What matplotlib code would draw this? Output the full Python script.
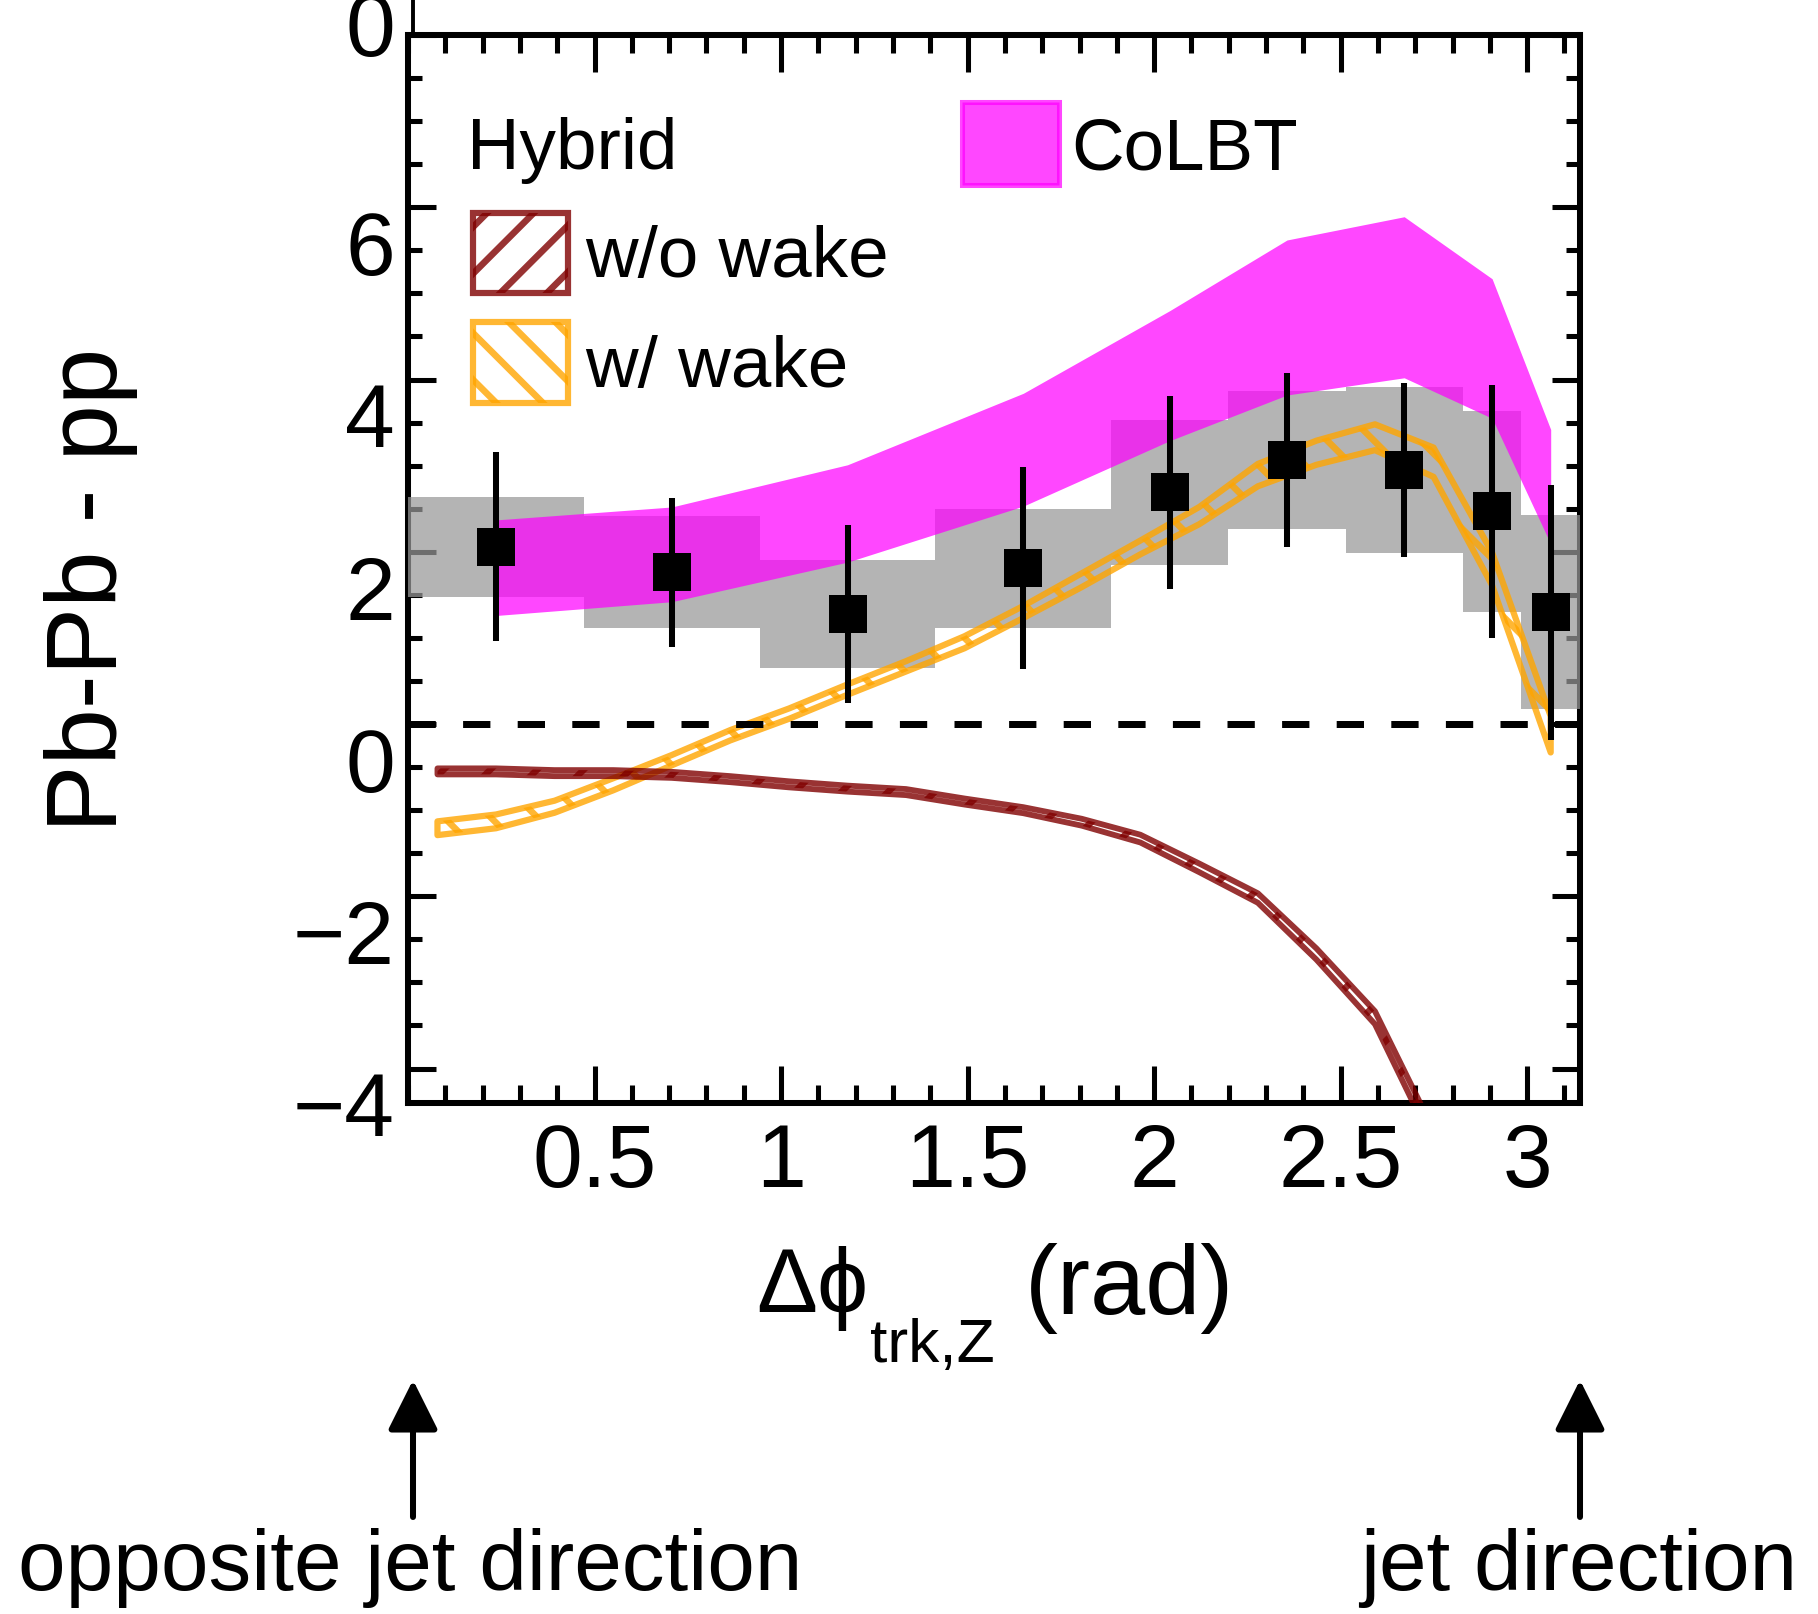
import numpy as np
import matplotlib.pyplot as plt
from matplotlib import transforms
from matplotlib.lines import Line2D
from matplotlib.patches import Rectangle
from matplotlib.ticker import MultipleLocator

plt.rcParams['font.family'] = ['Liberation Sans', 'DejaVu Sans']
plt.rcParams['hatch.linewidth'] = 3.4

# ---- measured data: Pb-Pb minus pp, binned in dphi (bin edges in units of pi/20)
bin_edges_pi20 = [0, 3, 6, 9, 12, 14, 16, 18, 19, 20]
data_y = [2.06, 1.76, 1.28, 1.81, 2.69, 3.07, 2.95, 2.47, 1.30]
stat_err = [1.10, 0.87, 1.03, 1.17, 1.12, 1.01, 1.01, 1.47, 1.48]
sys_err = [0.58, 0.65, 0.63, 0.69, 0.84, 0.80, 0.96, 1.17, 1.13]

# ---- CoLBT band at the bin centres
colbt_lo = [1.26, 1.42, 1.88, 2.53, 3.29, 3.82, 4.02, 3.55, 2.09]
colbt_hi = [2.37, 2.52, 3.01, 3.84, 4.80, 5.62, 5.89, 5.17, 3.42]

# ---- Hybrid model, evaluated at (k + 1/2) pi/20
hyb_x = [0.079, 0.236, 0.393, 0.550, 0.707, 0.864, 1.021, 1.178, 1.335, 1.492,
         1.649, 1.806, 1.963, 2.121, 2.278, 2.435, 2.592, 2.749, 2.906, 3.063]
wake_mid = [-1.21, -1.13, -0.96, -0.70, -0.42, -0.13, 0.12, 0.40, 0.67, 0.95,
            1.30, 1.67, 2.05, 2.42, 2.89, 3.15, 3.33, 3.04, 1.80, -0.12]
wake_hw = [0.08, 0.08, 0.07, 0.07, 0.06, 0.06, 0.06, 0.06, 0.06, 0.07,
           0.07, 0.08, 0.08, 0.10, 0.13, 0.14, 0.15, 0.17, 0.19, 0.21]
nowake_mid = [-0.55, -0.55, -0.57, -0.57, -0.59, -0.64, -0.70, -0.75, -0.79, -0.90,
              -1.00, -1.14, -1.33, -1.67, -2.02, -2.67, -3.41, -4.80]
nowake_hw = [0.035, 0.035, 0.035, 0.035, 0.035, 0.035, 0.035, 0.035, 0.035, 0.035,
             0.035, 0.04, 0.045, 0.05, 0.055, 0.065, 0.075, 0.085]

# y tick labels sit half a minor division below the tick marks
ytick_text = ['\u22124', '\u22122', '0', '2', '4', '6', '0']
ytick_pos = [-4.52, -2.52, -0.52, 1.48, 3.48, 5.48, 8.02]

c_wake = '#ffa500'
c_nowake = '#800000'
c_colbt = '#ff00ff'

bin_edges = np.array(bin_edges_pi20) * np.pi / 20
bin_centers = 0.5 * (bin_edges[1:] + bin_edges[:-1])
data_y = np.array(data_y)
sys_err = np.array(sys_err)
hyb_x = np.array(hyb_x)
wake_mid, wake_hw = np.array(wake_mid), np.array(wake_hw)
nowake_mid, nowake_hw = np.array(nowake_mid), np.array(nowake_hw)

W, H, DPI = 1819, 1614, 140
fig = plt.figure(figsize=(W / DPI, H / DPI), dpi=DPI)
ax = fig.add_axes([408 / W, 1 - 1103 / H, (1580 - 408) / W, (1103 - 35) / H])
ax.set_xlim(0, np.pi)
ax.set_ylim(-4.40, 8.0)

# systematic boxes
ax.bar(bin_edges[:-1], 2 * sys_err, bottom=data_y - sys_err, width=np.diff(bin_edges),
       align='edge', color='0.595', alpha=0.73, lw=0, zorder=3)
# CoLBT
ax.fill_between(bin_centers, colbt_lo, colbt_hi, color=c_colbt, alpha=0.72, lw=0, zorder=3.5)
# Hybrid bands
ax.fill_between(hyb_x, wake_mid - wake_hw, wake_mid + wake_hw, facecolor='none',
                edgecolor=c_wake, alpha=0.8, hatch='\\', lw=3.2, zorder=4)
ax.fill_between(hyb_x[:len(nowake_mid)], nowake_mid - nowake_hw, nowake_mid + nowake_hw,
                facecolor='none', edgecolor=c_nowake, alpha=0.8, hatch='/', lw=3.0, zorder=4)

ax.axhline(0, color='k', lw=3.6, dashes=(3.9, 3.9), zorder=4)

# data points
ax.errorbar(bin_centers, data_y, yerr=stat_err, fmt='none', ecolor='k', elinewidth=3.1,
            capsize=0, zorder=5)
ax.plot(bin_centers, data_y, 's', color='k', ms=19.5, mew=0, zorder=6)

# axes frame and ticks
for sp in ax.spines.values():
    sp.set_linewidth(3.1)
ax.set_xticks([0.5, 1, 1.5, 2, 2.5, 3], ['0.5', '1', '1.5', '2', '2.5', '3'])
ax.xaxis.set_minor_locator(MultipleLocator(0.1))
ax.yaxis.set_major_locator(MultipleLocator(2))
ax.yaxis.set_minor_locator(MultipleLocator(0.5))
ax.tick_params(which='both', direction='in', top=True, right=True, width=2.6)
ax.tick_params(axis='x', which='major', length=19, pad=10, labelsize=46)
ax.tick_params(axis='x', which='minor', length=9.3)
ax.tick_params(axis='y', which='major', length=14.4, labelleft=False)
ax.tick_params(axis='y', which='minor', length=7.2)

ylab_tr = transforms.blended_transform_factory(ax.transAxes, ax.transData)
for txt, yp in zip(ytick_text, ytick_pos):
    ax.text(-13 / 1172, yp, txt, transform=ylab_tr, ha='right', va='center',
            fontsize=46, clip_on=False)

# legend
def ax_frac(px, py):
    return (px - 408) / 1172, (1103 - py) / 1068

fs_leg = 37.5
x0, y0 = ax_frac(473, 293)
ax.add_patch(Rectangle((x0, y0), 95 / 1172, 80 / 1068, transform=ax.transAxes,
                       facecolor='none', edgecolor=c_nowake, alpha=0.8, hatch='/',
                       lw=3.2, zorder=7))
x0, y0 = ax_frac(473, 403)
ax.add_patch(Rectangle((x0, y0), 95 / 1172, 81 / 1068, transform=ax.transAxes,
                       facecolor='none', edgecolor=c_wake, alpha=0.8, hatch='\\',
                       lw=3.2, zorder=7))
x0, y0 = ax_frac(962, 185)
ax.add_patch(Rectangle((x0, y0), 97 / 1172, 83 / 1068, transform=ax.transAxes,
                       facecolor=c_colbt, edgecolor=c_colbt, alpha=0.72, lw=2.6, zorder=7))
for txt, px, py in [('Hybrid', 467, 169), ('w/o wake', 585, 277),
                    ('w/ wake', 585, 387), ('CoLBT', 1071, 169)]:
    tx, ty = ax_frac(px, py)
    ax.text(tx, ty, txt, transform=ax.transAxes, fontsize=fs_leg, va='baseline', ha='left')

# axis titles
fig.text(91 / W, 1 - 590 / H, 'Pb-Pb - pp', rotation=90, ha='center', va='center', fontsize=52)
fig.text(756 / W, 1 - 1312 / H, '\u0394\u03d5', ha='left', va='baseline', fontsize=47)
fig.text(870 / W, 1 - 1362 / H, 'trk,Z', ha='left', va='baseline', fontsize=32)
fig.text(1025 / W, 1 - 1314 / H, '(rad)', ha='left', va='baseline', fontsize=51)

# direction arrows under the frame
for px in [413, 1580]:
    fig.add_artist(plt.Annotation('', xy=(px / W, 1 - 1380 / H), xytext=(px / W, 1 - 1517 / H),
                                  xycoords='figure fraction', textcoords='figure fraction',
                                  arrowprops=dict(arrowstyle='-|>', mutation_scale=55, lw=3.1,
                                                  color='k', shrinkA=0, shrinkB=0)))
fig.text(18 / W, 1 - 1590 / H, 'opposite jet direction', ha='left', va='baseline', fontsize=44)
fig.text(1797 / W, 1 - 1590 / H, 'jet direction', ha='right', va='baseline', fontsize=44)

# short stub above the top-left corner
fig.add_artist(Line2D([413 / W, 413 / W], [1, 1 - 33 / H], color='k', lw=2))

fig.savefig('out.png', dpi=DPI)
